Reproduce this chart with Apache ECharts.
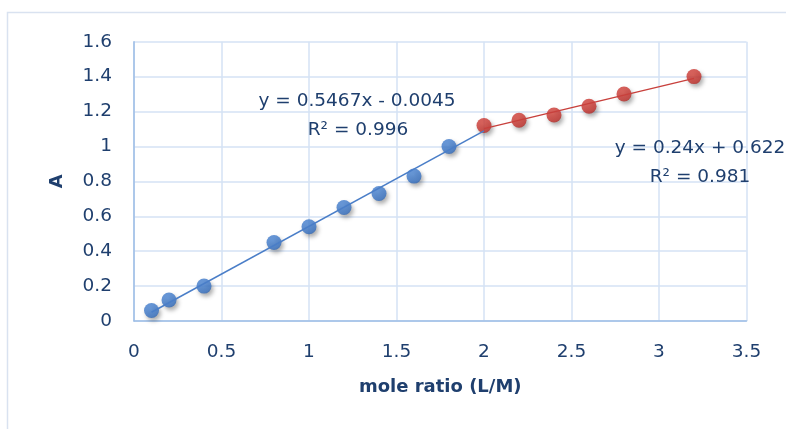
<!DOCTYPE html>
<html>
<head>
<meta charset="utf-8">
<script src="https://cdn.jsdelivr.net/npm/echarts@6/dist/echarts.min.js"></script>
<style>
html,body{margin:0;padding:0;background:#fff;}
#chart{width:786px;height:429px;}
</style>
</head>
<body>
<div id="chart"></div>
<script>
// ---- data ----
const blueX = [0.1, 0.2, 0.4, 0.8, 1.0, 1.2, 1.4, 1.6, 1.8];
const blueY = [0.06, 0.12, 0.2, 0.45, 0.54, 0.65, 0.73, 0.83, 1.0];
const redX = [2.0, 2.2, 2.4, 2.6, 2.8, 3.2];
const redY = [1.12, 1.15, 1.18, 1.23, 1.30, 1.40];
// linear trendlines as printed on the chart: [slope, intercept], and x-range
const blueTrendCoef = [0.5467, -0.0045];
const blueTrendRange = [0.1, 2.0];
const redTrendCoef = [0.24, 0.622];
const redTrendRange = [2.0, 3.2];
const blueEquation = ['y = 0.5467x - 0.0045', 'R² = 0.996'];
const redEquation = ['y = 0.24x + 0.622', 'R² = 0.981'];
const xTitle = 'mole ratio (L/M)';
const yTitle = 'A';

const pairs = (xs, ys) => xs.map((x, i) => [x, ys[i]]);
const trend = (c, r) => r.map(x => [x, c[0] * x + c[1]]);

const FONT = 'DejaVu Sans';
const TXT = '#1F3F6E';

function markerStyle(light, base, dark) {
  return {
    color: {
      type: 'radial', x: 0.45, y: 0.4, r: 0.65,
      colorStops: [{offset: 0, color: light}, {offset: 0.75, color: base}, {offset: 1, color: dark}]
    },
    shadowBlur: 4, shadowOffsetX: 2, shadowOffsetY: 3, shadowColor: 'rgba(0,0,0,0.4)'
  };
}

const chart = echarts.init(document.getElementById('chart'), null, {renderer: 'canvas'});
chart.setOption({
  animation: false,
  backgroundColor: '#fff',
  grid: {left: 134, right: 39.5, top: 41.7, bottom: 108, containLabel: false},
  xAxis: {
    type: 'value', min: 0, max: 3.5, interval: 0.5,
    name: xTitle, nameLocation: 'middle', nameGap: 57,
    nameTextStyle: {fontFamily: FONT, fontSize: 18, fontWeight: 'bold', color: TXT},
    axisLine: {show: true, lineStyle: {color: '#9DBDE6', width: 1.5}},
    axisTick: {show: false},
    axisLabel: {margin: 22, fontFamily: FONT, fontSize: 18.5, color: TXT},
    splitLine: {show: true, lineStyle: {color: '#D5E2F4', width: 1.5}}
  },
  yAxis: {
    type: 'value', min: 0, max: 1.6, interval: 0.2,
    name: yTitle, nameLocation: 'middle', nameGap: 68, nameRotate: 90,
    nameTextStyle: {fontFamily: FONT, fontSize: 18, fontWeight: 'bold', color: TXT},
    axisLine: {show: true, lineStyle: {color: '#9DBDE6', width: 1.5}},
    axisTick: {show: false},
    axisLabel: {margin: 22, fontFamily: FONT, fontSize: 18.5, color: TXT},
    splitLine: {show: true, lineStyle: {color: '#D5E2F4', width: 1.5}}
  },
  graphic: [
    {type: 'rect', shape: {x: 7.5, y: 12.5, width: 900, height: 500}, style: {fill: 'none', stroke: '#D9E2F0', lineWidth: 1.5}, z: -10, silent: true},
    {type: 'text', x: 357, y: 101, style: {text: blueEquation[0], fontFamily: FONT, fontSize: 18.5, fill: TXT, textAlign: 'center', textVerticalAlign: 'middle'}, z: 100},
    {type: 'text', x: 358, y: 130, style: {text: blueEquation[1], fontFamily: FONT, fontSize: 18.5, fill: TXT, textAlign: 'center', textVerticalAlign: 'middle'}, z: 100},
    {type: 'text', x: 700, y: 148, style: {text: redEquation[0], fontFamily: FONT, fontSize: 18.5, fill: TXT, textAlign: 'center', textVerticalAlign: 'middle'}, z: 100},
    {type: 'text', x: 700, y: 177, style: {text: redEquation[1], fontFamily: FONT, fontSize: 18.5, fill: TXT, textAlign: 'center', textVerticalAlign: 'middle'}, z: 100}
  ],
  series: [
    {
      type: 'scatter', name: 'blue', data: pairs(blueX, blueY),
      symbol: 'circle', symbolSize: 15, z: 3,
      itemStyle: markerStyle('#4F8AD8', '#3A75C6', '#2D62AE')
    },
    {
      type: 'scatter', name: 'red', data: pairs(redX, redY),
      symbol: 'circle', symbolSize: 15, z: 3,
      itemStyle: markerStyle('#D9483F', '#C6332E', '#AA2824')
    },
    {
      type: 'line', name: 'blueTrend', data: trend(blueTrendCoef, blueTrendRange),
      showSymbol: false, symbol: 'none', z: 5,
      lineStyle: {color: '#4A7EC8', width: 1.5}
    },
    {
      type: 'line', name: 'redTrend', data: trend(redTrendCoef, redTrendRange),
      showSymbol: false, symbol: 'none', z: 5,
      lineStyle: {color: '#C8403C', width: 1.5}
    }
  ]
});
</script>
</body>
</html>
